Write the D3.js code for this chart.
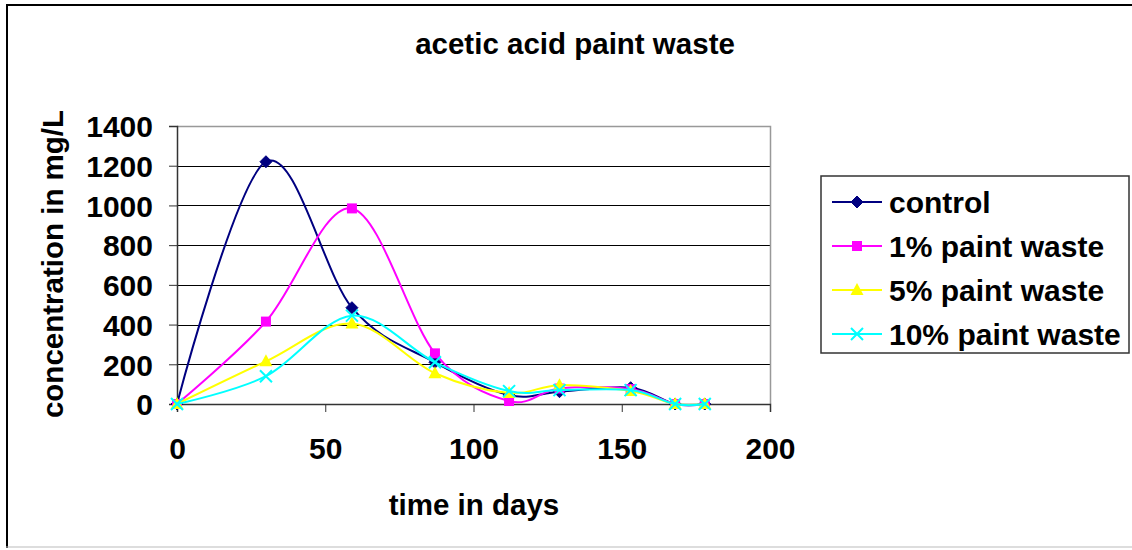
<!DOCTYPE html>
<html>
<head>
<meta charset="utf-8">
<script src="https://cdn.jsdelivr.net/npm/d3@7"></script>
<style>
  html, body { margin: 0; padding: 0; background: #fff; }
  svg text { font-family: "Liberation Sans", Arial, sans-serif; font-weight: bold; fill: #000; }
</style>
</head>
<body>
<svg id="chart" width="1132" height="550"></svg>
<script>
// Sampling days and acetic acid concentrations (mg/L)
const days = [0, 30, 59, 87, 112, 129, 153, 168, 178];
const control = [0, 1220, 485, 210, 45, 62, 82, 0, 0];
const paint1 = [0, 415, 985, 255, 15, 78, 75, 0, 0];
const paint5 = [0, 215, 405, 155, 55, 95, 65, 0, 0];
const paint10 = [0, 140, 445, 210, 65, 70, 70, 0, 0];

const seriesNames = ["control", "1% paint waste", "5% paint waste", "10% paint waste"];
const seriesValues = [control, paint1, paint5, paint10];
const seriesColors = ["#000080", "#FF00FF", "#FFFF00", "#00FFFF"];
const seriesMarkers = ["diamond", "square", "triangle", "cross"];

const xTicks = [0, 50, 100, 150, 200];
const yTicks = [0, 200, 400, 600, 800, 1000, 1200, 1400];

const chartTitle = "acetic acid paint waste";
const xTitle = "time in days";
const yTitle = "concentration in mg/L";

const svg = d3.select("#chart");
const plot = { left: 177, right: 770, top: 126, bottom: 404 };

const x = d3.scaleLinear().domain([0, 200]).range([plot.left, plot.right]);
const y = d3.scaleLinear().domain([0, 1400]).range([plot.bottom, plot.top]);

// outer chart frame
svg.append("line").attr("x1", 7).attr("x2", 7).attr("y1", 5).attr("y2", 548)
  .attr("stroke", "#000").attr("stroke-width", 2);
svg.append("line").attr("x1", 6).attr("x2", 1132).attr("y1", 5).attr("y2", 5)
  .attr("stroke", "#000").attr("stroke-width", 2);
svg.append("line").attr("x1", 6).attr("x2", 1132).attr("y1", 547).attr("y2", 547)
  .attr("stroke", "#bbb").attr("stroke-width", 1);

// horizontal gridlines
svg.append("g").selectAll("line").data(yTicks.filter(d => d > 0 && d < 1400)).join("line")
  .attr("x1", plot.left).attr("x2", plot.right)
  .attr("y1", d => Math.round(y(d)) + 0.5).attr("y2", d => Math.round(y(d)) + 0.5)
  .attr("stroke", "#000").attr("stroke-width", 1);

// plot area border (top and right)
svg.append("path")
  .attr("d", `M${plot.left},${plot.top + 0.5}H${plot.right + 0.5}V${plot.bottom}`)
  .attr("fill", "none").attr("stroke", "#999").attr("stroke-width", 1.5);

// axes
const yAxis = d3.axisLeft(y).tickValues(yTicks).tickSize(8).tickPadding(16).tickFormat(d3.format("d"));
const gy = svg.append("g").attr("transform", `translate(${plot.left},0)`).call(yAxis);
const xAxis = d3.axisBottom(x).tickValues(xTicks).tickSize(8).tickPadding(26).tickFormat(d3.format("d"));
const gx = svg.append("g").attr("transform", `translate(0,${plot.bottom})`).call(xAxis);

[gx, gy].forEach(g => {
  g.select(".domain").attr("stroke", "#333").attr("stroke-width", 1.5);
  g.selectAll(".tick line").attr("stroke", "#333").attr("stroke-width", 1);
  g.selectAll(".tick text").attr("font-size", 30).attr("font-family", "Liberation Sans, Arial, sans-serif")
    .attr("font-weight", "bold").attr("fill", "#000");
});
gy.selectAll(".tick text").attr("dy", "0.36em");

// titles
svg.append("text").attr("x", 575).attr("y", 54).attr("text-anchor", "middle")
  .attr("font-size", 29.5).text(chartTitle);
svg.append("text").attr("x", 474).attr("y", 515).attr("text-anchor", "middle")
  .attr("font-size", 29.5).text(xTitle);
svg.append("text").attr("transform", "translate(63,264) rotate(-90)").attr("text-anchor", "middle")
  .attr("font-size", 29.5).text(yTitle);

// marker shapes
function drawMarker(sel, type, color) {
  if (type === "diamond") {
    sel.append("path").attr("d", "M0,-6L6,0L0,6L-6,0Z").attr("fill", color).attr("stroke", color);
  } else if (type === "square") {
    sel.append("rect").attr("x", -5).attr("y", -5).attr("width", 10).attr("height", 10).attr("fill", color);
  } else if (type === "triangle") {
    sel.append("path").attr("d", "M0,-7L6.5,5L-6.5,5Z").attr("fill", color);
  } else {
    sel.append("path").attr("d", "M-6,-6L6,6M-6,6L6,-6").attr("stroke", color).attr("stroke-width", 2).attr("fill", "none");
  }
}

const line = d3.line().x(d => x(d[0])).y(d => y(d[1])).curve(d3.curveCardinal.tension(0));

seriesValues.forEach((vals, i) => {
  const pts = days.map((d, j) => [d, vals[j]]);
  svg.append("path").datum(pts).attr("d", line)
    .attr("fill", "none").attr("stroke", seriesColors[i]).attr("stroke-width", 2);
  svg.append("g").selectAll("g").data(pts).join("g")
    .attr("transform", d => `translate(${x(d[0])},${y(d[1])})`)
    .each(function () { drawMarker(d3.select(this), seriesMarkers[i], seriesColors[i]); });
});

// legend
const legend = svg.append("g");
legend.append("rect").attr("x", 821).attr("y", 176).attr("width", 308).attr("height", 177)
  .attr("fill", "#fff").attr("stroke", "#333").attr("stroke-width", 1.5);
const legendY = [202, 246, 290, 334];
seriesNames.forEach((name, i) => {
  const g = legend.append("g").attr("transform", `translate(0,${legendY[i]})`);
  g.append("line").attr("x1", 832).attr("x2", 882).attr("stroke", seriesColors[i]).attr("stroke-width", 2);
  const m = g.append("g").attr("transform", "translate(857,0)");
  drawMarker(m, seriesMarkers[i], seriesColors[i]);
  g.append("text").attr("x", 889).attr("dy", "0.36em").attr("font-size", 30).text(name);
});
</script>
</body>
</html>
